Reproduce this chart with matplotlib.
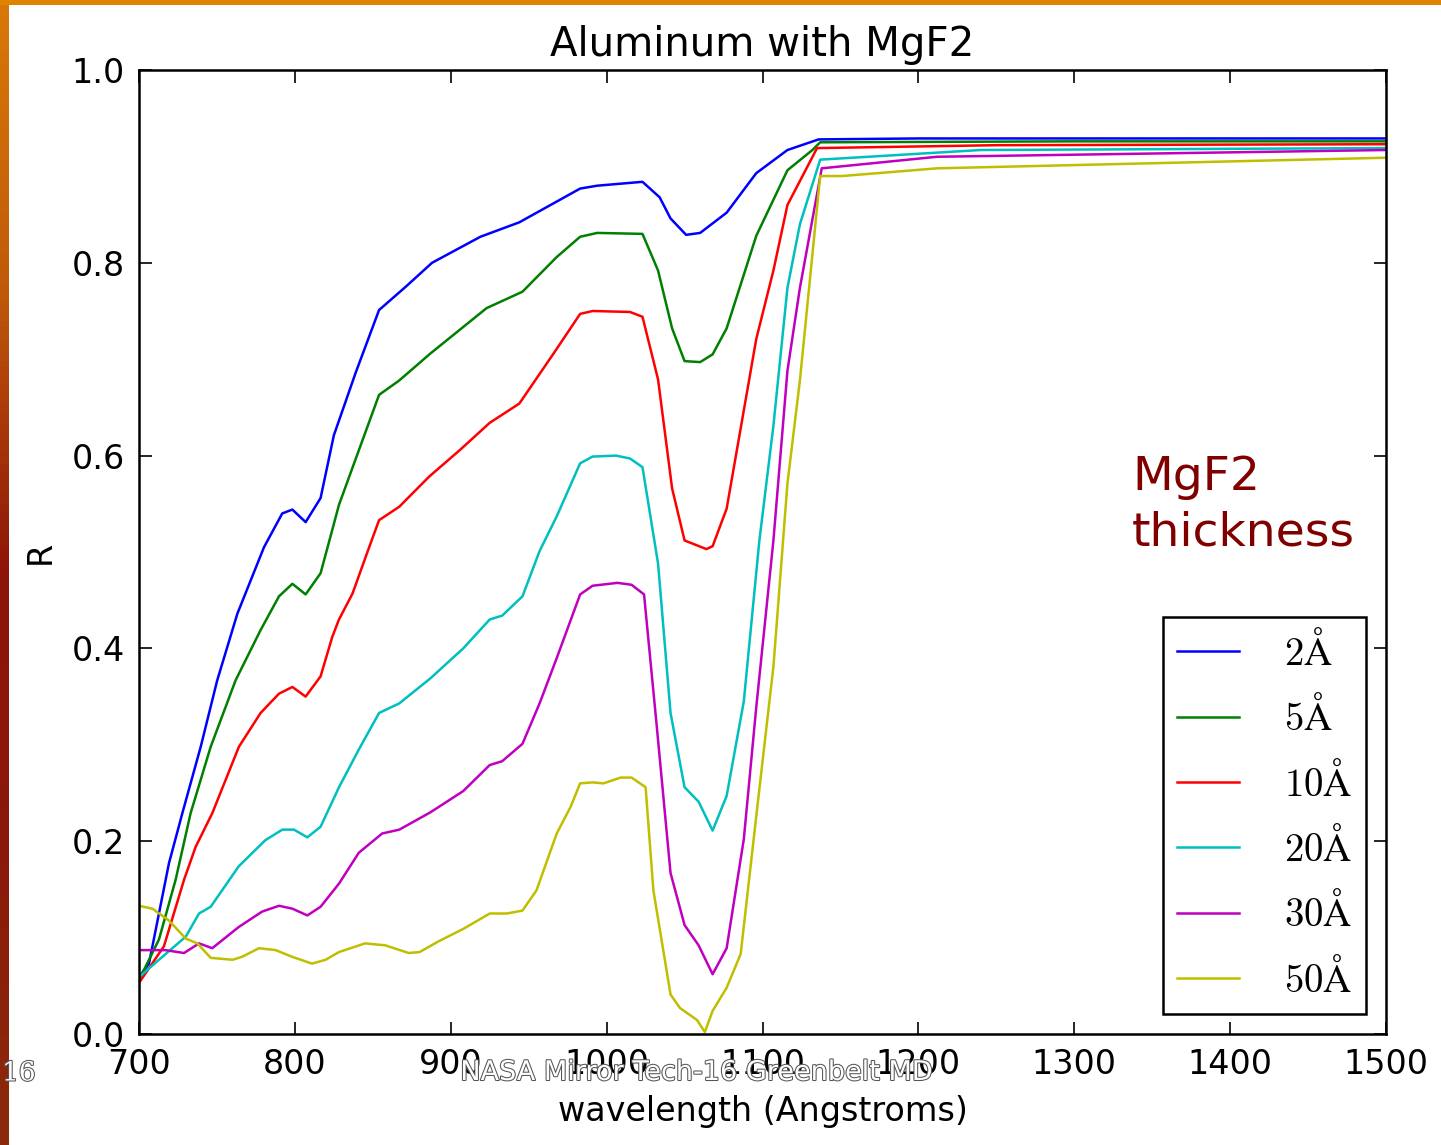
import numpy as np
import matplotlib
matplotlib.use("Agg")
import matplotlib.pyplot as plt
import matplotlib.patheffects as pe
from matplotlib.colors import LinearSegmentedColormap

# reflectance curves, one (wavelength, R) pair of lists per thickness
wl_2 = [700, 706.4, 712.8, 719.2, 727.8, 739.6, 750.2, 763.1, 780.2, 791.9, 798.4, 806.9, 816.5,
        825, 839, 854, 871, 888, 919, 944, 983, 994, 1023, 1034, 1041, 1051, 1060, 1077, 1096, 1116,
        1136, 1200, 1300, 1400, 1500]
r_2 = [0.059, 0.073, 0.125, 0.177, 0.229, 0.298, 0.367, 0.436, 0.505, 0.540, 0.544, 0.531, 0.556,
       0.621, 0.686, 0.751, 0.775, 0.80, 0.827, 0.842, 0.877, 0.880, 0.884, 0.868, 0.846, 0.829, 0.831,
       0.852, 0.893, 0.917, 0.928, 0.929, 0.929, 0.929, 0.929]

wl_5 = [700, 712.8, 723.5, 733.1, 746, 762, 778, 789.8, 798.4, 806.9, 816.5, 824, 828.3, 854, 867, 887,
        923, 946, 968, 983, 994, 1023, 1033, 1042, 1050, 1060, 1068, 1077, 1096, 1116, 1132, 1137, 1300, 1500]
r_5 = [0.056, 0.098, 0.160, 0.229, 0.298, 0.367, 0.419, 0.454, 0.467, 0.456, 0.478, 0.523, 0.549, 0.663,
       0.678, 0.706, 0.753, 0.770, 0.806, 0.827, 0.831, 0.830, 0.792, 0.732, 0.698, 0.697, 0.705, 0.732,
       0.828, 0.896, 0.917, 0.925, 0.926, 0.926]

wl_10 = [700, 716, 728.9, 736.3, 747, 764.1, 778, 789.8, 798.4, 806.9, 816.5, 824, 828.3, 837, 847, 854,
         867, 886, 906, 925, 944, 966, 983, 991, 1015, 1023, 1033, 1042, 1050, 1064, 1068, 1077, 1085, 1096,
         1107, 1116, 1135, 1250, 1500]
r_10 = [0.053, 0.091, 0.160, 0.194, 0.229, 0.298, 0.333, 0.353, 0.360, 0.350, 0.371, 0.412, 0.430, 0.457,
        0.502, 0.533, 0.547, 0.578, 0.606, 0.634, 0.654, 0.706, 0.747, 0.75, 0.749, 0.744, 0.679, 0.566,
        0.512, 0.503, 0.506, 0.545, 0.619, 0.721, 0.792, 0.860, 0.919, 0.922, 0.923]

wl_20 = [700, 712.8, 730, 738.5, 746, 764, 781, 792, 799.4, 808, 816.5, 828.3, 841, 854, 867, 887, 908,
         925, 933, 946, 957, 968, 983, 991, 1006, 1015, 1023, 1033, 1041, 1050, 1059, 1068, 1077, 1088,
         1098, 1107, 1116, 1124, 1137, 1240, 1500]
r_20 = [0.059, 0.077, 0.101, 0.125, 0.132, 0.174, 0.201, 0.212, 0.212, 0.204, 0.215, 0.256, 0.295, 0.333,
        0.343, 0.369, 0.40, 0.43, 0.434, 0.454, 0.501, 0.537, 0.592, 0.599, 0.60, 0.597, 0.588, 0.488,
        0.333, 0.256, 0.241, 0.211, 0.247, 0.345, 0.512, 0.631, 0.774, 0.84, 0.907, 0.917, 0.919]

wl_30 = [700, 717, 728.9, 738.5, 747, 764, 779, 789.8, 798.4, 808, 816.5, 828.3, 841, 856, 867, 887, 908,
         925, 933, 946, 957, 968, 983, 991, 1007, 1016, 1024, 1032, 1041, 1050, 1059, 1068, 1077, 1088,
         1096, 1107, 1116, 1124, 1138, 1212, 1500]
r_30 = [0.087, 0.087, 0.084, 0.094, 0.089, 0.111, 0.127, 0.133, 0.130, 0.123, 0.132, 0.156, 0.188, 0.208,
        0.212, 0.23, 0.252, 0.279, 0.283, 0.301, 0.343, 0.39, 0.456, 0.465, 0.468, 0.466, 0.456, 0.322,
        0.167, 0.113, 0.092, 0.062, 0.089, 0.202, 0.339, 0.512, 0.688, 0.774, 0.898, 0.91, 0.917]

wl_50 = [700, 708.6, 719, 730, 737.4, 746, 760, 766, 777, 787.7, 798.4, 811, 819.7, 828.3, 845, 858, 873,
         880, 892, 908, 925, 936, 946, 955, 968, 977, 983, 991, 998, 1009, 1016, 1025, 1030, 1041, 1047,
         1058, 1063, 1068, 1077, 1086, 1096, 1107, 1116, 1124, 1137, 1151, 1212, 1500]
r_50 = [0.133, 0.130, 0.118, 0.099, 0.094, 0.079, 0.077, 0.080, 0.089, 0.087, 0.080, 0.073, 0.077, 0.085,
        0.094, 0.092, 0.084, 0.085, 0.096, 0.109, 0.125, 0.125, 0.128, 0.149, 0.208, 0.236, 0.26, 0.261,
        0.26, 0.266, 0.266, 0.256, 0.149, 0.041, 0.027, 0.0145, 0.002, 0.024, 0.048, 0.083, 0.226, 0.381,
        0.571, 0.678, 0.89, 0.89, 0.898, 0.909]

labels = [r'$\mathrm{2\AA}$', r'$\mathrm{5\AA}$', r'$\mathrm{10\AA}$',
          r'$\mathrm{20\AA}$', r'$\mathrm{30\AA}$', r'$\mathrm{50\AA}$']
colors = ['#0000ff', '#008000', '#ff0000', '#00bfbf', '#bf00bf', '#bfbf00']

plt.rcParams['mathtext.fontset'] = 'cm'

fig = plt.figure(figsize=(14.41, 11.45), dpi=100)
fig.patch.set_facecolor('white')

# slide border: gradient strip on the left, orange strip on top
cmap = LinearSegmentedColormap.from_list('edge', ['#d87808', '#c05a0a', '#8e1408', '#8a1a0a', '#8c2a0c'])
edge = fig.add_axes([0, 0, 9 / 1441, 1])
edge.imshow(np.linspace(0, 1, 200).reshape(-1, 1), aspect='auto', cmap=cmap)
edge.axis('off')
top = fig.add_axes([0, 1 - 5 / 1145, 1, 5 / 1145])
top.set_facecolor('#de8400')
top.set_xticks([])
top.set_yticks([])
for s in top.spines.values():
    s.set_visible(False)

ax = fig.add_axes([139 / 1441, 111 / 1145, 1247 / 1441, 964 / 1145])

series = [(wl_2, r_2), (wl_5, r_5), (wl_10, r_10), (wl_20, r_20), (wl_30, r_30), (wl_50, r_50)]
for (w, r), lab, c in zip(series, labels, colors):
    ax.plot(w, r, color=c, lw=1.8, label=lab)

ax.set_xlim(700, 1500)
ax.set_ylim(0, 1.0)
ax.set_xticks(range(700, 1501, 100))
ax.set_yticks([0.0, 0.2, 0.4, 0.6, 0.8, 1.0])
ax.set_yticklabels(['0.0', '0.2', '0.4', '0.6', '0.8', '1.0'])
ax.tick_params(direction='in', length=9, width=1.2, top=True, right=True, labelsize=24, pad=10)
for s in ax.spines.values():
    s.set_linewidth(1.8)

ax.set_title('Aluminum with MgF2', fontsize=29, pad=10)
ax.set_xlabel('wavelength (Angstroms)', fontsize=24, labelpad=10)
ax.set_ylabel('R', fontsize=24, labelpad=11)

leg = ax.legend(loc='lower right', bbox_to_anchor=(0.984, 0.021), borderaxespad=0,
                fontsize=28, fancybox=False, edgecolor='black', framealpha=1,
                handlelength=1.6, handletextpad=1.15, labelspacing=0.6, borderpad=0.36)
leg.get_frame().set_linewidth(1.8)
for ln in leg.get_lines():
    ln.set_linewidth(1.8)

fig.text(1132 / 1441, 1 - 478 / 1145, 'MgF2', fontsize=34, color='#800000', va='center', ha='left')
fig.text(1132 / 1441, 1 - 533 / 1145, 'thickness', fontsize=34, color='#800000', va='center', ha='left')

# slide footer
fx = [pe.withStroke(linewidth=1.5, foreground='#555555')]
fig.text(2 / 1441, 1 - 1073 / 1145, '16', fontsize=19, color='white', va='center', ha='left',
         family='DejaVu Serif', path_effects=fx)
fig.text(697 / 1441, 1 - 1073 / 1145, 'NASA Mirror Tech-16 Greenbelt MD', fontsize=19.5, color='white',
         va='center', ha='center', path_effects=fx)

fig.savefig('out.png', dpi=100, facecolor='white')
